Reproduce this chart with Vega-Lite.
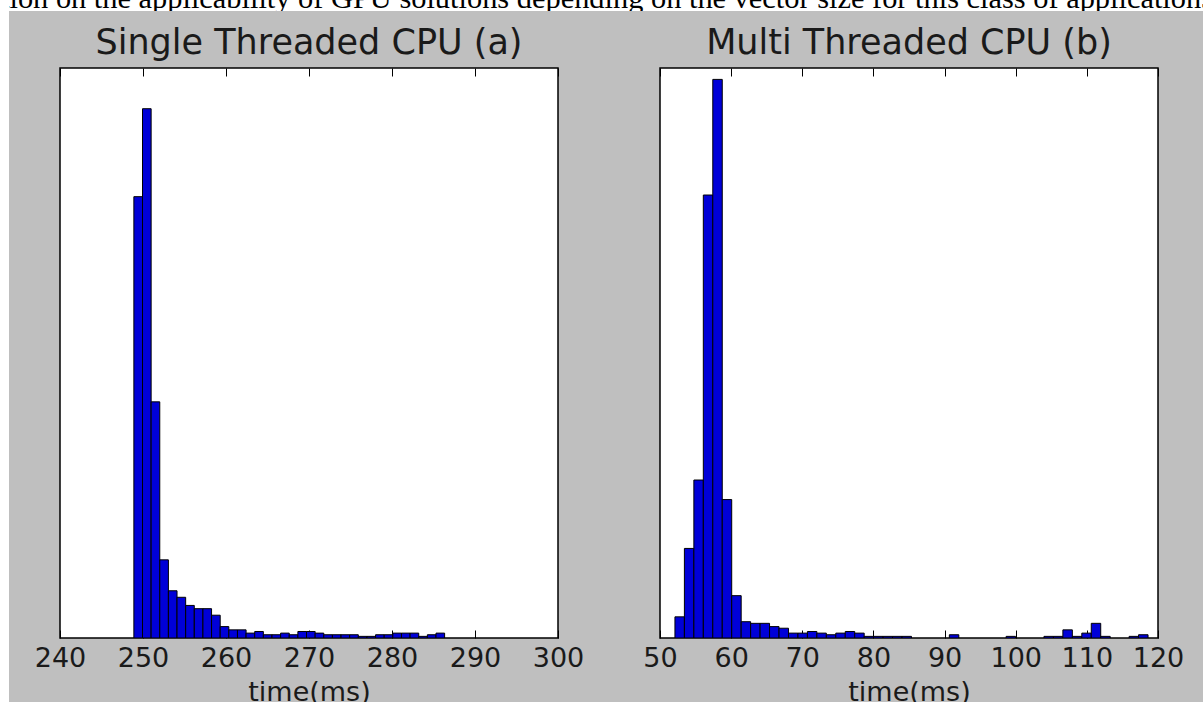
{
  "$schema": "https://vega.github.io/schema/vega-lite/v6.json",
  "background": "#bfbfbf",
  "padding": 0,
  "bounds": "flush",
  "spacing": 0,
  "config": {
    "font": "DejaVu Sans",
    "axis": {"grid": false, "domain": false},
    "title": {"font": "DejaVu Sans", "fontWeight": "normal", "color": "#1a1a1a"}
  },
  "datasets": {
    "single": [
      {"lo": 248.90, "hi": 249.94, "count": 271},
      {"lo": 249.94, "hi": 250.98, "count": 325},
      {"lo": 250.98, "hi": 252.02, "count": 145},
      {"lo": 252.02, "hi": 253.06, "count": 48},
      {"lo": 253.06, "hi": 254.10, "count": 29},
      {"lo": 254.10, "hi": 255.14, "count": 25},
      {"lo": 255.14, "hi": 256.18, "count": 20},
      {"lo": 256.18, "hi": 257.22, "count": 18},
      {"lo": 257.22, "hi": 258.26, "count": 18},
      {"lo": 258.26, "hi": 259.30, "count": 14},
      {"lo": 259.30, "hi": 260.34, "count": 7},
      {"lo": 260.34, "hi": 261.38, "count": 5},
      {"lo": 261.38, "hi": 262.42, "count": 5},
      {"lo": 262.42, "hi": 263.46, "count": 3},
      {"lo": 263.46, "hi": 264.50, "count": 4},
      {"lo": 264.50, "hi": 265.54, "count": 2},
      {"lo": 265.54, "hi": 266.58, "count": 2},
      {"lo": 266.58, "hi": 267.62, "count": 3},
      {"lo": 267.62, "hi": 268.66, "count": 2},
      {"lo": 268.66, "hi": 269.70, "count": 4},
      {"lo": 269.70, "hi": 270.74, "count": 4},
      {"lo": 270.74, "hi": 271.78, "count": 3},
      {"lo": 271.78, "hi": 272.82, "count": 2},
      {"lo": 272.82, "hi": 273.86, "count": 2},
      {"lo": 273.86, "hi": 274.90, "count": 2},
      {"lo": 274.90, "hi": 275.94, "count": 2},
      {"lo": 275.94, "hi": 276.98, "count": 1},
      {"lo": 276.98, "hi": 278.02, "count": 1},
      {"lo": 278.02, "hi": 279.06, "count": 2},
      {"lo": 279.06, "hi": 280.10, "count": 2},
      {"lo": 280.10, "hi": 281.14, "count": 3},
      {"lo": 281.14, "hi": 282.18, "count": 3},
      {"lo": 282.18, "hi": 283.22, "count": 3},
      {"lo": 283.22, "hi": 284.26, "count": 1},
      {"lo": 284.26, "hi": 285.30, "count": 2},
      {"lo": 285.30, "hi": 286.34, "count": 3}
    ],
    "multi": [
      {"lo": 52.10, "hi": 53.43, "count": 13},
      {"lo": 53.43, "hi": 54.76, "count": 55},
      {"lo": 54.76, "hi": 56.09, "count": 97},
      {"lo": 56.09, "hi": 57.42, "count": 272},
      {"lo": 57.42, "hi": 58.75, "count": 343},
      {"lo": 58.75, "hi": 60.08, "count": 85},
      {"lo": 60.08, "hi": 61.41, "count": 26},
      {"lo": 61.41, "hi": 62.74, "count": 10},
      {"lo": 62.74, "hi": 64.07, "count": 9},
      {"lo": 64.07, "hi": 65.40, "count": 9},
      {"lo": 65.40, "hi": 66.73, "count": 7},
      {"lo": 66.73, "hi": 68.06, "count": 6},
      {"lo": 68.06, "hi": 69.39, "count": 3},
      {"lo": 69.39, "hi": 70.72, "count": 3},
      {"lo": 70.72, "hi": 72.05, "count": 4},
      {"lo": 72.05, "hi": 73.38, "count": 3},
      {"lo": 73.38, "hi": 74.71, "count": 2},
      {"lo": 74.71, "hi": 76.04, "count": 3},
      {"lo": 76.04, "hi": 77.37, "count": 4},
      {"lo": 77.37, "hi": 78.70, "count": 3},
      {"lo": 78.70, "hi": 80.03, "count": 1},
      {"lo": 80.03, "hi": 81.36, "count": 1},
      {"lo": 81.36, "hi": 82.69, "count": 1},
      {"lo": 82.69, "hi": 84.02, "count": 1},
      {"lo": 84.02, "hi": 85.35, "count": 1},
      {"lo": 90.67, "hi": 92.00, "count": 2},
      {"lo": 98.65, "hi": 99.98, "count": 1},
      {"lo": 103.97, "hi": 105.30, "count": 1},
      {"lo": 105.30, "hi": 106.63, "count": 1},
      {"lo": 106.63, "hi": 107.96, "count": 5},
      {"lo": 107.96, "hi": 109.29, "count": 1},
      {"lo": 109.29, "hi": 110.62, "count": 3},
      {"lo": 110.62, "hi": 111.95, "count": 9},
      {"lo": 111.95, "hi": 113.28, "count": 1},
      {"lo": 115.94, "hi": 117.27, "count": 1},
      {"lo": 117.27, "hi": 118.60, "count": 2}
    ]
  },
  "hconcat": [
    {
      "width": 9,
      "height": 702,
      "view": {"fill": "white", "stroke": null},
      "data": {"values": [{}]},
      "mark": {"type": "text", "text": ""}
    },
    {
      "spacing": 57,
      "bounds": "flush",
      "vconcat": [
        {
          "width": 1194,
          "height": 11,
          "view": {"fill": "white", "stroke": null},
          "data": {"values": [{"caption": "tion on the applicability of GPU solutions depending on the vector size for this class of applications"}]},
          "mark": {"type": "text", "clip": true, "align": "left", "baseline": "alphabetic", "font": "Liberation Serif", "fontSize": 30.4, "color": "black", "x": -8, "y": 8},
          "encoding": {"text": {"field": "caption"}}
        },
        {
          "spacing": 50,
          "bounds": "flush",
          "hconcat": [
            {
              "width": 1,
              "height": 570,
              "view": {"fill": null, "stroke": null},
              "data": {"values": [{}]},
              "mark": {"type": "text", "text": ""}
            },
            {
              "width": 498,
              "height": 570,
              "data": {"name": "single"},
              "title": {"text": "Single Threaded CPU (a)", "fontSize": 35, "offset": 7},
              "view": {"fill": "white", "stroke": "black", "strokeWidth": 1.5},
              "resolve": {"axis": {"x": "independent"}},
              "layer": [
                {
                  "mark": {"type": "bar", "fill": "#0000d8", "stroke": "black", "strokeWidth": 1, "clip": true},
                  "encoding": {
                    "x": {"field": "lo", "type": "quantitative", "scale": {"domain": [240, 300], "nice": false, "zero": false},
                      "axis": {"orient": "bottom", "values": [240, 250, 260, 270, 280, 290, 300], "format": "d", "tickSize": -8, "tickColor": "black", "tickWidth": 1, "minExtent": 0, "labelFont": "DejaVu Sans", "labelFontSize": 27, "labelColor": "#1a1a1a", "labelPadding": 15, "labelFlush": false, "labelOverlap": false, "title": "time(ms)", "titleFont": "DejaVu Sans", "titleFontSize": 27, "titleFontWeight": "normal", "titleColor": "#1a1a1a", "titleBaseline": "alphabetic", "titleY": 62}},
                    "x2": {"field": "hi"},
                    "y": {"field": "count", "type": "quantitative", "scale": {"domain": [0, 350], "nice": false}, "axis": null},
                    "y2": {"datum": 0}
                  }
                },
                {
                  "mark": {"type": "rule", "opacity": 0},
                  "encoding": {
                    "x": {"field": "lo", "type": "quantitative",
                      "axis": {"orient": "top", "values": [240, 250, 260, 270, 280, 290, 300], "labels": false, "tickSize": -8, "tickColor": "black", "tickWidth": 1, "minExtent": 0, "maxExtent": 0, "title": null}}
                  }
                }
              ]
            },
            {
              "width": 2,
              "height": 570,
              "view": {"fill": null, "stroke": null},
              "data": {"values": [{}]},
              "mark": {"type": "text", "text": ""}
            },
            {
              "width": 498,
              "height": 570,
              "data": {"name": "multi"},
              "title": {"text": "Multi Threaded CPU (b)", "fontSize": 35, "offset": 7},
              "view": {"fill": "white", "stroke": "black", "strokeWidth": 1.5},
              "resolve": {"axis": {"x": "independent"}},
              "layer": [
                {
                  "mark": {"type": "bar", "fill": "#0000d8", "stroke": "black", "strokeWidth": 1, "clip": true},
                  "encoding": {
                    "x": {"field": "lo", "type": "quantitative", "scale": {"domain": [50, 120], "nice": false, "zero": false},
                      "axis": {"orient": "bottom", "values": [50, 60, 70, 80, 90, 100, 110, 120], "format": "d", "tickSize": -8, "tickColor": "black", "tickWidth": 1, "minExtent": 0, "labelFont": "DejaVu Sans", "labelFontSize": 27, "labelColor": "#1a1a1a", "labelPadding": 15, "labelFlush": false, "labelOverlap": false, "title": "time(ms)", "titleFont": "DejaVu Sans", "titleFontSize": 27, "titleFontWeight": "normal", "titleColor": "#1a1a1a", "titleBaseline": "alphabetic", "titleY": 62}},
                    "x2": {"field": "hi"},
                    "y": {"field": "count", "type": "quantitative", "scale": {"domain": [0, 350], "nice": false}, "axis": null},
                    "y2": {"datum": 0}
                  }
                },
                {
                  "mark": {"type": "rule", "opacity": 0},
                  "encoding": {
                    "x": {"field": "lo", "type": "quantitative",
                      "axis": {"orient": "top", "values": [50, 60, 70, 80, 90, 100, 110, 120], "labels": false, "tickSize": -8, "tickColor": "black", "tickWidth": 1, "minExtent": 0, "maxExtent": 0, "title": null}}
                  }
                }
              ]
            }
          ]
        }
      ]
    }
  ]
}
